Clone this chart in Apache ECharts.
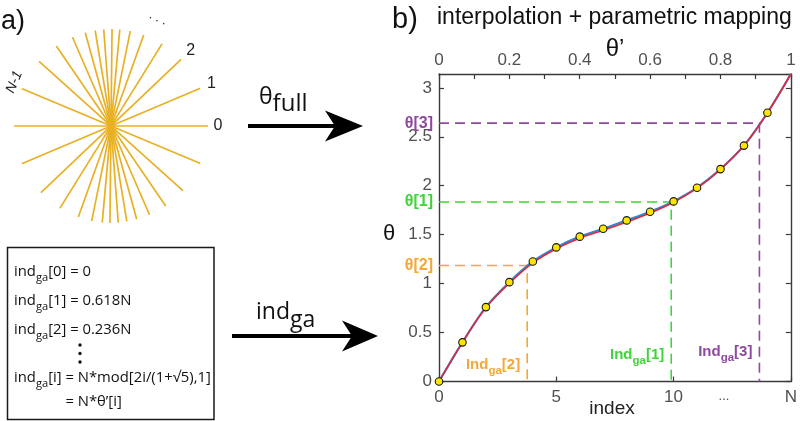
<!DOCTYPE html>
<html><head><meta charset="utf-8">
<script src="https://cdn.jsdelivr.net/npm/echarts@6/dist/echarts.min.js"></script>
<style>html,body{margin:0;padding:0;background:#fff}#c{width:800px;height:421px}</style>
</head><body><div id="c"></div>
<script>
// ---------------- data ----------------
const N = 15;
const sampleIndex = [0, 1, 2, 3, 4, 5, 6, 7, 8, 9, 10, 11, 12, 13, 14];
const sampleTheta = [0, 0.40, 0.76, 1.015, 1.226, 1.37, 1.48, 1.56, 1.646, 1.735, 1.84, 1.98, 2.17, 2.41, 2.745];
const curveIndex = [0, 1, 2, 3, 4, 5, 6, 7, 8, 9, 10, 11, 12, 13, 14, 15];
const blueTheta = [0, 0.40, 0.76, 1.015, 1.226, 1.37, 1.48, 1.56, 1.646, 1.735, 1.84, 1.98, 2.17, 2.41, 2.745, 3.1416];
const redTheta  = [0, 0.40, 0.755, 1.005, 1.212, 1.356, 1.464, 1.546, 1.630, 1.722, 1.832, 1.975, 2.168, 2.41, 2.745, 3.1416];
const gaNames = ['1', '2', '3'];
const gaIdx = [9.9, 3.76, 13.66];
const gaTheta = [1.834, 1.185, 2.64];
const gaColors = ['#3fd43a', '#f5a838', '#8e4a9e'];
const bottomTickLabels = ['0', '5', '10', 'N'];
const topTickLabels = ['0', '0.2', '0.4', '0.6', '0.8', '1'];
const boxRest = ['[0] = 0', '[1] = 0.618N', '[2] = 0.236N', '[i] = N*mod[2i/(1+\u221A5),1]'];
const boxLast = '= N*\u03B8\u2019[i]';

// ---------------- layout ----------------
const FONT = '"Liberation Sans", Arial, sans-serif';
const HFONT = '"Open Sans", "Noto Sans", sans-serif';
const axisColor = '#3a3a3a';
const labelColor = '#505050';
const PC = [111, 126], PR = 97;

const chart = echarts.init(document.getElementById('c'), null, {renderer: 'canvas', width: 800, height: 421});

const spokeSeries = sampleTheta.map(t => {
  const deg = t * 180 / Math.PI;
  return {
    type: 'line', coordinateSystem: 'polar', polarIndex: 0,
    data: [[1, deg], [1, deg + 180]],
    symbol: 'none', silent: true, animation: false,
    lineStyle: {color: '#e8b024', width: 1.7}
  };
});

const dashSeries = gaIdx.map((ix, k) => ({
  type: 'line', xAxisIndex: 0, yAxisIndex: 0,
  data: [[0, gaTheta[k]], [ix, gaTheta[k]], [ix, 0]],
  symbol: 'none', silent: true, animation: false, z: 1,
  lineStyle: {color: gaColors[k], width: 1.6, type: [10, 6]}
}));

const axisCommon = {
  axisLine: {show: true, onZero: false, lineStyle: {color: axisColor, width: 1.4}},
  axisTick: {show: true, inside: true, length: 5, lineStyle: {color: axisColor, width: 1.2}},
  splitLine: {show: false}
};
const lbl = {color: labelColor, fontSize: 17, fontFamily: FONT};

chart.setOption({
  backgroundColor: '#fff',
  animation: false,
  polar: {center: PC, radius: PR},
  angleAxis: {type: 'value', min: 0, max: 360, startAngle: 0, clockwise: false, show: false},
  radiusAxis: {type: 'value', min: 0, max: 1, show: false},
  grid: {left: 439, right: 8, top: 74, bottom: 39.5},
  xAxis: [
    Object.assign({type: 'value', position: 'bottom', min: 0, max: N, interval: 5,
     axisLabel: Object.assign({margin: 7, formatter: v => bottomTickLabels[Math.round(v / 5)] || ''}, lbl)}, axisCommon),
    Object.assign({type: 'value', position: 'top', min: 0, max: 1, interval: 0.1,
     axisLabel: Object.assign({margin: 5,
       formatter: v => { const r = Math.round(v * 10); return r % 2 === 0 ? topTickLabels[r / 2] : ''; }}, lbl)}, axisCommon)
  ],
  yAxis: [
    Object.assign({type: 'value', position: 'left', min: 0, max: Math.PI, interval: 0.5,
     axisLabel: Object.assign({margin: 7, showMaxLabel: false}, lbl)}, axisCommon),
    Object.assign({type: 'value', position: 'right', min: 0, max: Math.PI, interval: 0.5,
     axisLabel: {show: false}}, axisCommon)
  ],
  series: [
    ...spokeSeries,
    ...dashSeries,
    {type: 'line', xAxisIndex: 0, yAxisIndex: 0, data: curveIndex.map((x, i) => [x, blueTheta[i]]),
     smooth: 0.35, symbol: 'none', z: 3, lineStyle: {color: '#2a8bd2', width: 2.2}},
    {type: 'line', xAxisIndex: 0, yAxisIndex: 0, data: curveIndex.map((x, i) => [x, redTheta[i]]),
     smooth: 0.35, symbol: 'none', z: 4, lineStyle: {color: '#e2283d', width: 1.6}},
    {type: 'scatter', xAxisIndex: 0, yAxisIndex: 0, data: sampleIndex.map((x, i) => [x, sampleTheta[i]]),
     symbol: 'circle', symbolSize: 7.5, z: 5,
     itemStyle: {color: '#ffe400', borderColor: '#1a1a1a', borderWidth: 1.1, opacity: 1}}
  ]
});

// ---------------- annotations ----------------
const px = (x, y) => chart.convertToPixel({gridIndex: 0}, [x, y]);
const mctx = document.createElement('canvas').getContext('2d');
const tw = (font, s) => { mctx.font = font; return mctx.measureText(s).width; };
const G = [];
function txt(x, y, text, opt) {
  opt = opt || {};
  const st = {text: text, fill: opt.fill || '#222', font: opt.font || ('14px ' + FONT),
    align: opt.align || 'left', verticalAlign: 'middle',
    textAlign: opt.align || 'left', textVerticalAlign: 'middle'};
  const el = {type: 'text', x: x, y: y, silent: true, z: 100, style: st};
  if (opt.rotation !== undefined) el.rotation = opt.rotation;
  G.push(el);
}
// base + subscript + rest, measured so pieces sit next to each other
function subText(x, y, base, sub, rest, size, subSize, shift, color, weight, family, align) {
  const w = weight === 'bold' ? 'bold ' : '';
  const fA = w + size + 'px ' + family, fS = w + subSize + 'px ' + family;
  const wA = tw(fA, base), wS = tw(fS, sub), wR = rest ? tw(fA, rest) : 0;
  const x0 = align === 'right' ? x - (wA + wS + wR) : x;
  txt(x0, y, base, {font: fA, fill: color});
  txt(x0 + wA, y + shift, sub, {font: fS, fill: color});
  if (rest) txt(x0 + wA + wS, y, rest, {font: fA, fill: color});
  return {x0: x0, wA: wA, wS: wS, fA: fA};
}

// panel labels / title
txt(1, 22, 'a)', {font: '27px ' + FONT, fill: '#111'});
txt(392, 20, 'b)', {font: '29px ' + FONT, fill: '#111'});
txt(437, 18, 'interpolation + parametric mapping', {font: '23px ' + FONT, fill: '#111'});

// axis names
txt(615, 49, '\u03B8\u2019', {font: '24px ' + FONT, fill: '#111', align: 'center'});
txt(389, 234, '\u03B8', {font: '22px ' + FONT, fill: '#111', align: 'center'});
txt(612, 409, 'index', {font: '19px ' + FONT, fill: '#222', align: 'center'});
const dotsP = px(12.15, 0);
txt(dotsP[0], 396, '...', {font: '13px ' + FONT, fill: labelColor, align: 'center'});

// theta labels on left + Ind labels
const indLabelY = [0.27, 0.17, 0.30];
gaIdx.forEach((ix, k) => {
  const p = px(0, gaTheta[k]);
  txt(433, p[1], '\u03B8[' + gaNames[k] + ']', {font: 'bold 16px ' + FONT, fill: gaColors[k], align: 'right'});
  const q = px(ix, indLabelY[k]);
  subText(q[0] - 7, q[1], 'Ind', 'ga', '[' + gaNames[k] + ']', 15, 11.5, 6, gaColors[k], 'bold', FONT, 'right');
});

// spoke labels
function polarPt(r, deg) { const a = deg * Math.PI / 180; return [PC[0] + r * Math.cos(a), PC[1] - r * Math.sin(a)]; }
const deg = t => t * 180 / Math.PI;
let p = polarPt(107, deg(sampleTheta[0])); txt(p[0], p[1], '0', {font: '16px ' + FONT, align: 'center'});
p = polarPt(109, deg(sampleTheta[1])); txt(p[0], p[1], '1', {font: '16px ' + FONT, align: 'center'});
p = polarPt(110, deg(sampleTheta[2])); txt(p[0], p[1], '2', {font: '16px ' + FONT, align: 'center'});
p = polarPt(116, 66); txt(p[0], p[1] - 2, '. . .', {font: '13px ' + FONT, align: 'center', rotation: -24 * Math.PI / 180});
p = polarPt(106, deg(sampleTheta[14])); txt(p[0] + 1, p[1] - 3, 'N-1', {font: 'italic 14px ' + FONT, align: 'center', rotation: 67 * Math.PI / 180});

// arrows
function arrow(x0, x1, y, hl, hw, notch) {
  G.push({type: 'rect', silent: true, shape: {x: x0, y: y - 2, width: x1 - hl + notch - x0 + 2, height: 4}, style: {fill: '#000'}});
  G.push({type: 'polygon', silent: true, shape: {points: [[x1, y], [x1 - hl, y - hw], [x1 - hl + notch, y], [x1 - hl, y + hw]]}, style: {fill: '#000'}});
}
arrow(248, 363, 126, 38, 15.5, 10);
arrow(232, 378, 336, 36, 15.5, 10);
subText(259, 97, '\u03B8', 'full', '', 23, 24, 7, '#111', 'normal', HFONT, 'left');
subText(256, 312, 'ind', 'ga', '', 23, 23, 8, '#111', 'normal', HFONT, 'left');

// box
G.push({type: 'rect', silent: true, shape: {x: 7.5, y: 247.5, width: 206.5, height: 172}, style: {fill: 'none', stroke: '#1a1a1a', lineWidth: 1.5}});
// fit font so the longest line spans the box width
const w14 = tw('14px ' + HFONT, 'ind') + tw('10.5px ' + HFONT, 'ga') + tw('14px ' + HFONT, boxRest[3]);
const bs = Math.min(16, 14 * 197 / w14);
const boxY = [272, 301, 330, 378];
let info;
boxRest.forEach((r, i) => { info = subText(14, boxY[i], 'ind', 'ga', r, bs, bs * 0.75, 6, '#111', 'normal', HFONT, 'left'); });
const eqX = info.x0 + info.wA + info.wS + tw(info.fA, '[i] ');
txt(eqX, 402, boxLast, {font: bs + 'px ' + HFONT, fill: '#111'});
[345, 353.5, 362].forEach(y => G.push({type: 'circle', silent: true, shape: {cx: 80, cy: y, r: 1.7}, style: {fill: '#111'}}));

chart.setOption({graphic: {elements: G}});
</script>
</body></html>
